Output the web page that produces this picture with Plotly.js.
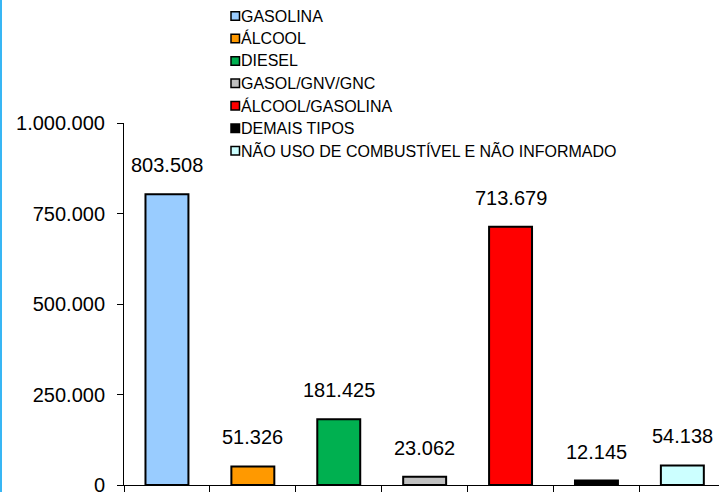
<!DOCTYPE html>
<html>
<head>
<meta charset="utf-8">
<script src="https://cdn.plot.ly/plotly-3.0.1.min.js"></script>
<style>html,body{margin:0;padding:0;background:#fff;}#chart{width:719px;height:492px;}</style>
</head>
<body>
<div id="chart"></div>
<script>
const categories = ["GASOLINA", "ÁLCOOL", "DIESEL", "GASOL/GNV/GNC", "ÁLCOOL/GASOLINA", "DEMAIS TIPOS", "NÃO USO DE COMBUSTÍVEL E NÃO INFORMADO"];
const values = [803508, 51326, 181425, 23062, 713679, 12145, 54138];
const colors = ["#99CCFF", "#FF9900", "#00B050", "#C0C0C0", "#FF0000", "#000000", "#CCFFFF"];
const yTickVals = [0, 250000, 500000, 750000, 1000000];

const W = 719, H = 492, L = 124, R = 0, T = 123, B = 7;
const pw = W - L - R, ph = H - T - B;
const px2x = p => (p - L) / pw;
const py2y = p => (H - B - p) / ph;
const fmt = v => Math.round(v).toString().replace(/\B(?=(\d{3})+(?!\d))/g, '.');
const FONT = 'Liberation Sans, Arial, sans-serif';

const traces = categories.map((c, i) => ({
  type: 'bar',
  name: c,
  x: [c],
  y: [values[i]],
  marker: {color: colors[i], line: {color: '#000000', width: 2}},
  showlegend: false,
  hoverinfo: 'none'
}));

const annotations = [];
const shapes = [];
categories.forEach((c, i) => {
  annotations.push({
    xref: 'x', yref: 'y', x: c, y: values[i],
    text: fmt(values[i]), showarrow: false,
    yanchor: 'bottom', yshift: 16,
    font: {family: FONT, size: 20, color: '#000000'}
  });
  // custom legend
  const cy = 16 + i * 22.45;
  shapes.push({
    type: 'rect', xref: 'paper', yref: 'paper',
    x0: px2x(231), x1: px2x(239.5), y0: py2y(cy + 4.25), y1: py2y(cy - 4.25),
    fillcolor: colors[i], line: {color: '#000000', width: 1.5}
  });
  annotations.push({
    xref: 'paper', yref: 'paper', x: px2x(239), y: py2y(cy),
    xanchor: 'left', yanchor: 'middle', text: c, showarrow: false,
    font: {family: FONT, size: 16, color: '#000000'}
  });
});

// left blue frame edge
shapes.push({
  type: 'line', xref: 'paper', yref: 'paper',
  x0: px2x(1), x1: px2x(1), y0: py2y(H), y1: py2y(0),
  line: {color: '#38B6F4', width: 2}
});

const layout = {
  width: W, height: H,
  margin: {l: L, r: R, t: T, b: B, pad: 0},
  paper_bgcolor: '#ffffff', plot_bgcolor: '#ffffff',
  separators: ',.',
  barmode: 'overlay', bargap: 0.5,
  showlegend: false,
  xaxis: {
    type: 'category', categoryorder: 'array', categoryarray: categories,
    range: [-0.5, -0.5 + pw / 85.9],
    showticklabels: false, tickson: 'boundaries', ticks: 'outside',
    ticklen: 7, tickcolor: '#000000', tickwidth: 1,
    showline: true, linecolor: '#000000', linewidth: 1,
    showgrid: false, zeroline: false, automargin: false, fixedrange: true
  },
  yaxis: {
    range: [0, 1000000], tickvals: yTickVals, tickformat: ',.0f',
    ticks: 'outside', ticklen: 6, tickcolor: '#000000', tickwidth: 1,
    ticklabelstandoff: 8, ticklabeloverflow: 'allow',
    showline: true, linecolor: '#000000', linewidth: 1,
    showgrid: false, zeroline: false, automargin: false, fixedrange: true,
    tickfont: {family: FONT, size: 20, color: '#000000'}
  },
  annotations: annotations,
  shapes: shapes
};

Plotly.newPlot('chart', traces, layout, {displayModeBar: false, staticPlot: true});
</script>
</body>
</html>
